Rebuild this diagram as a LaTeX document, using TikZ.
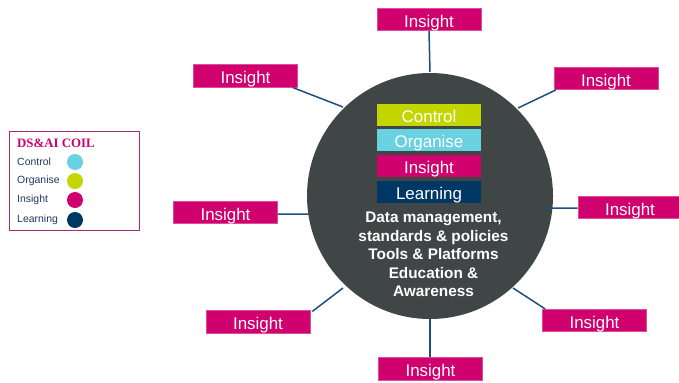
\documentclass[tikz,border=0pt]{standalone}
\usepackage{fontspec}
\setmainfont{Liberation Sans}
\newfontfamily\serifbold{Liberation Serif}
\definecolor{mag}{RGB}{208,0,111}
\definecolor{lime}{RGB}{196,214,0}
\definecolor{cyanc}{RGB}{106,209,224}
\definecolor{navy}{RGB}{0,56,101}
\definecolor{hub}{RGB}{64,70,69}
\definecolor{linec}{RGB}{31,78,121}
\definecolor{legborder}{RGB}{170,40,110}
\definecolor{legtext}{RGB}{31,56,100}
\begin{document}
\begin{tikzpicture}[x=1bp,y=-1bp,
  insight/.style={fill=mag,draw=mag!70!white,line width=0.6bp,minimum width=104bp,minimum height=22.5bp,inner sep=0pt,
    text=white,text height=17bp,text depth=1.6bp,font=\fontsize{17}{20}\selectfont},
  inbox/.style={minimum width=104bp,minimum height=22bp,inner sep=0pt,text=white,
    text height=16.8bp,text depth=1.8bp,font=\fontsize{17}{20}\selectfont},
  link/.style={draw=linec,line width=1.5bp},
  legdot/.style={circle,minimum size=16bp,inner sep=0pt},
  leglab/.style={anchor=west,inner sep=0pt,text=legtext,font=\fontsize{10.5}{12}\selectfont}]
\useasboundingbox (0,0) rectangle (679,382);
\clip (0,0) rectangle (679,382);
% hub
\node[circle,fill=hub,minimum size=246bp,inner sep=0pt] (hub) at (430,196) {};
% inner boxes
\node[inbox,fill=lime] (ctl) at (429,115) {Control};
\node[inbox,fill=cyanc] (org) at (429,140) {Organise};
\node[inbox,fill=mag] (ins) at (429,166) {Insight};
\node[inbox,fill=navy] (lrn) at (429,192) {Learning};
\node[text=white,align=center,inner sep=0pt,font=\fontsize{15.4}{18.5}\selectfont\bfseries] (txt) at (433.5,254.5)
  {Data management,\\standards \& policies\\Tools \& Platforms\\Education \&\\Awareness};
% outer insight boxes
\node[insight] (t) at (429,19.5) {Insight};
\node[insight] (ul) at (245.5,76) {Insight};
\node[insight] (ur) at (606,78.5) {Insight};
\node[insight] (l) at (225.5,212.5) {Insight};
\node[insight] (r) at (630,207.5) {Insight};
\node[insight] (ll) at (258,322) {Insight};
\node[insight] (b) at (430.5,369) {Insight};
\node[insight] (lr) at (594.5,320.5) {Insight};
% circle-side end points
\coordinate (et) at (430,72);
\coordinate (eul) at (343,107);
\coordinate (eur) at (518,108);
\coordinate (el) at (309,214);
\coordinate (er) at (543,208);
\coordinate (ell) at (343,288);
\coordinate (eb) at (430,319);
\coordinate (elr) at (513,288);
\draw[link] (t.south) -- (et);
\draw[link] (ul.south east) ++(-5,0) coordinate (sul) -- (eul);
\draw[link] (ur.south west) ++(2,0) coordinate (sur) -- (eur);
\draw[link] (l.east) ++(0,1.5) coordinate (sl) -- (el);
\draw[link] (r.west) ++(0,0.5) coordinate (sr) -- (er);
\draw[link] (ll.north east) ++(2,1) coordinate (sll) -- (ell);
\draw[link] (b.north) ++(-0.5,0) coordinate (sb) -- (eb);
\draw[link] (lr.north west) ++(3,0) coordinate (slr) -- (elr);
% legend
\node[draw=legborder,line width=1bp,minimum width=129bp,minimum height=99bp,inner sep=0pt] (leg) at (74.5,180.5) {};
\node[anchor=west,inner sep=0pt,text=mag,font=\serifbold\fontsize{12.9}{14}\selectfont\bfseries] (legt) at (17,143) {DS\&AI COIL};
\node[leglab] (l1) at (17,162) {Control};
\node[leglab] (l2) at (17,181) {Organise};
\node[leglab] (l3) at (17,200) {Insight};
\node[leglab] (l4) at (17,220) {Learning};
\node[legdot,fill=cyanc] (d1) at (75,162) {};
\node[legdot,fill=lime] (d2) at (75,181) {};
\node[legdot,fill=mag] (d3) at (75,200) {};
\node[legdot,fill=navy] (d4) at (75,220) {};
\end{tikzpicture}
\end{document}
